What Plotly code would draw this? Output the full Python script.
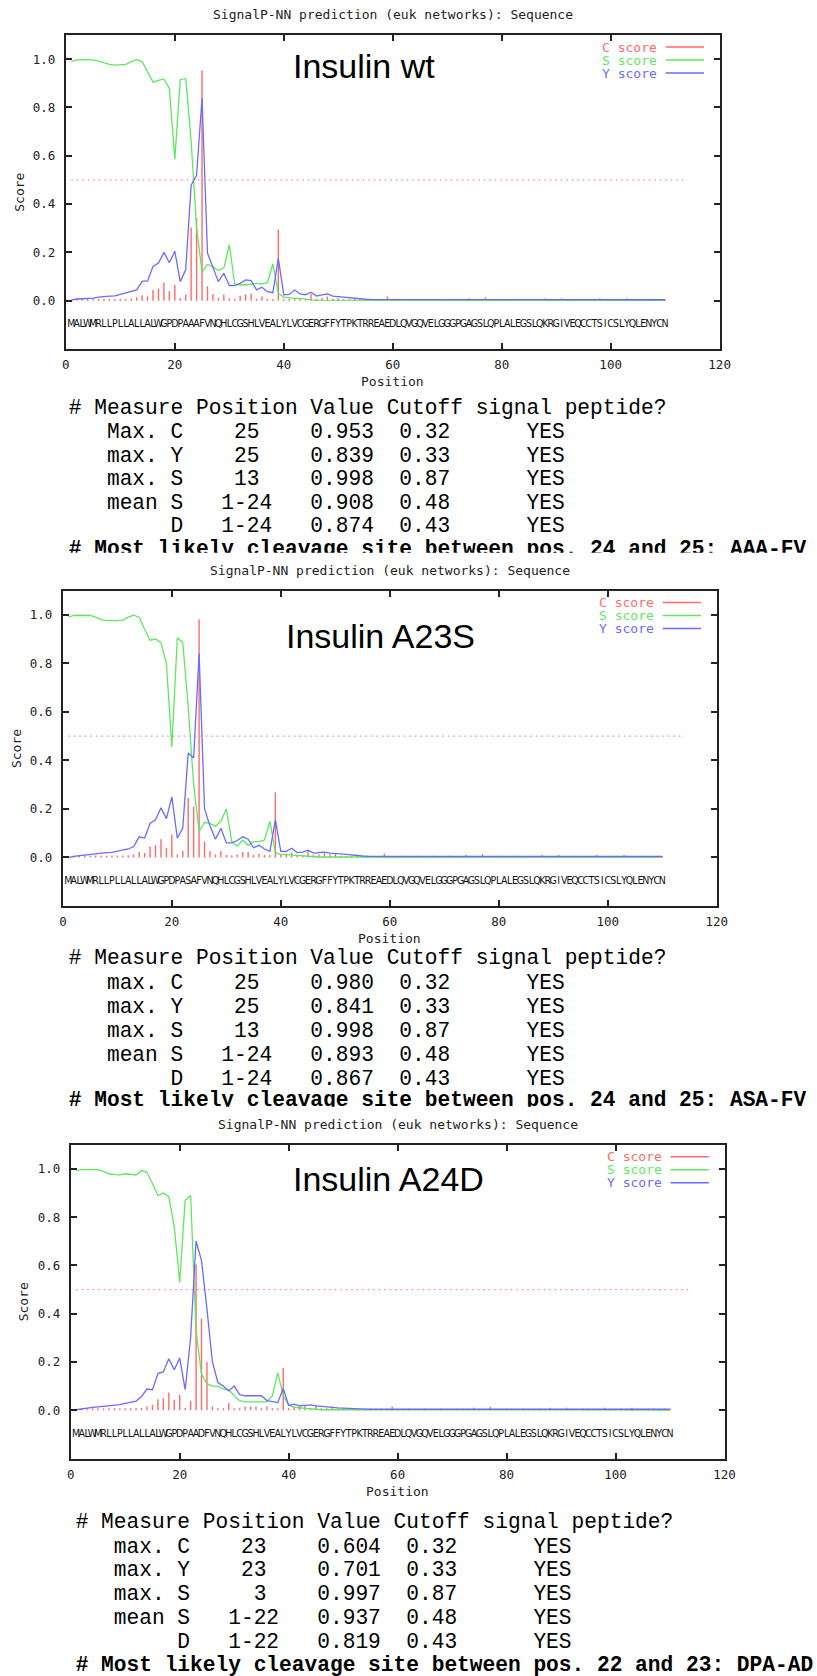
import plotly.graph_objects as go

W, H = 817, 1676

# ---------------- data ----------------
positions = list(range(1, 111))
x_ticks = [0, 20, 40, 60, 80, 100, 120]
y_ticks = [0.0, 0.2, 0.4, 0.6, 0.8, 1.0]
y_tick_labels = ["0.0", "0.2", "0.4", "0.6", "0.8", "1.0"]
cutoff_line_x = [1, 114]
cutoff_line_y = [0.5, 0.5]
sequence_row_y = -0.1

plot_title = "SignalP-NN prediction (euk networks): Sequence"
panel_names = ["Insulin wt", "Insulin A23S", "Insulin A24D"]
legend_labels = ["C score", "S score", "Y score"]

seq_wt = "MALWMRLLPLLALLALWGPDPAAAFVNQHLCGSHLVEALYLVCGERGFFYTPKTRREAEDLQVGQVELGGGPGAGSLQPLALEGSLQKRGIVEQCCTSICSLYQLENYCN"
seq_a23s = "MALWMRLLPLLALLALWGPDPASAFVNQHLCGSHLVEALYLVCGERGFFYTPKTRREAEDLQVGQVELGGGPGAGSLQPLALEGSLQKRGIVEQCCTSICSLYQLENYCN"
seq_a24d = "MALWMRLLPLLALLALWGPDPAADFVNQHLCGSHLVEALYLVCGERGFFYTPKTRREAEDLQVGQVELGGGPGAGSLQPLALEGSLQKRGIVEQCCTSICSLYQLENYCN"

c_wt = [0.003, 0.007, 0.008, 0.007, 0.007, 0.008, 0.007, 0.008, 0.007, 0.008,
        0.008, 0.009, 0.014, 0.022, 0.017, 0.044, 0.050, 0.075, 0.040, 0.065,
        0.011, 0.026, 0.303, 0.342, 0.953, 0.060, 0.028, 0.011, 0.026, 0.010,
        0.008, 0.020, 0.026, 0.030, 0.008, 0.017, 0.008, 0.007, 0.295, 0.008,
        0.008, 0.011, 0.011, 0.008, 0.028, 0.008, 0.011, 0.017, 0.008, 0.010,
        0.007, 0.006, 0.007, 0.006, 0.007, 0.006, 0.007, 0.006, 0.017, 0.006,
        0.006, 0.007, 0.006, 0.006, 0.007, 0.006, 0.006, 0.007, 0.006, 0.006,
        0.007, 0.006, 0.006, 0.010, 0.006, 0.006, 0.014, 0.006, 0.006, 0.007,
        0.006, 0.006, 0.007, 0.006, 0.006, 0.007, 0.006, 0.010, 0.006, 0.006,
        0.010, 0.006, 0.006, 0.007, 0.006, 0.006, 0.006, 0.010, 0.006, 0.006,
        0.007, 0.006, 0.010, 0.006, 0.006, 0.007, 0.006, 0.006, 0.006, 0.006]
s_wt = [0.990, 0.997, 0.998, 0.998, 0.997, 0.992, 0.985, 0.978, 0.975, 0.976,
        0.978, 0.990, 0.998, 0.990, 0.950, 0.905, 0.912, 0.918, 0.880, 0.586,
        0.915, 0.920, 0.660, 0.300, 0.120, 0.150, 0.140, 0.125, 0.135, 0.232,
        0.070, 0.065, 0.065, 0.070, 0.072, 0.070, 0.075, 0.152, 0.030, 0.015,
        0.012, 0.010, 0.010, 0.005, 0.003, 0.002, 0.002, 0.002, 0.002, 0.002,
        0.002, 0.002, 0.002, 0.002, 0.002, 0.002, 0.001, 0.001, 0.001, 0.001,
        0.001, 0.001, 0.001, 0.001, 0.001, 0.001, 0.001, 0.001, 0.001, 0.001,
        0.001, 0.001, 0.001, 0.001, 0.001, 0.001, 0.001, 0.001, 0.001, 0.001,
        0.001, 0.001, 0.001, 0.001, 0.001, 0.001, 0.001, 0.001, 0.001, 0.001,
        0.001, 0.001, 0.001, 0.001, 0.001, 0.001, 0.001, 0.001, 0.001, 0.001,
        0.001, 0.001, 0.001, 0.001, 0.001, 0.001, 0.001, 0.001, 0.001, 0.001]
y_wt = [0.002, 0.007, 0.008, 0.009, 0.011, 0.015, 0.018, 0.019, 0.020, 0.026,
        0.031, 0.036, 0.045, 0.080, 0.082, 0.142, 0.156, 0.200, 0.157, 0.205,
        0.079, 0.128, 0.478, 0.520, 0.839, 0.197, 0.142, 0.079, 0.114, 0.063,
        0.063, 0.072, 0.086, 0.083, 0.045, 0.056, 0.037, 0.033, 0.175, 0.024,
        0.026, 0.044, 0.028, 0.024, 0.035, 0.019, 0.024, 0.028, 0.019, 0.017,
        0.014, 0.010, 0.008, 0.007, 0.006, 0.005, 0.005, 0.004, 0.004, 0.004,
        0.004, 0.004, 0.004, 0.004, 0.004, 0.004, 0.004, 0.004, 0.004, 0.004,
        0.004, 0.004, 0.004, 0.004, 0.004, 0.004, 0.004, 0.004, 0.004, 0.004,
        0.004, 0.004, 0.004, 0.004, 0.004, 0.004, 0.004, 0.004, 0.004, 0.004,
        0.004, 0.004, 0.004, 0.004, 0.004, 0.004, 0.004, 0.004, 0.004, 0.004,
        0.004, 0.004, 0.004, 0.004, 0.004, 0.004, 0.004, 0.004, 0.004, 0.004]

c_a23s = [0.004, 0.008, 0.008, 0.008, 0.007, 0.008, 0.008, 0.007, 0.008, 0.008,
          0.008, 0.009, 0.012, 0.022, 0.018, 0.045, 0.050, 0.075, 0.040, 0.095,
          0.012, 0.028, 0.245, 0.210, 0.980, 0.065, 0.027, 0.012, 0.027, 0.010,
          0.008, 0.012, 0.022, 0.022, 0.010, 0.015, 0.010, 0.010, 0.268, 0.012,
          0.010, 0.020, 0.010, 0.008, 0.028, 0.010, 0.012, 0.018, 0.012, 0.015,
          0.007, 0.006, 0.007, 0.006, 0.007, 0.006, 0.007, 0.006, 0.016, 0.006,
          0.006, 0.007, 0.006, 0.006, 0.007, 0.006, 0.006, 0.007, 0.006, 0.006,
          0.007, 0.006, 0.006, 0.010, 0.006, 0.006, 0.014, 0.006, 0.006, 0.007,
          0.006, 0.006, 0.007, 0.006, 0.006, 0.007, 0.006, 0.010, 0.006, 0.006,
          0.010, 0.006, 0.006, 0.007, 0.006, 0.006, 0.006, 0.010, 0.006, 0.006,
          0.007, 0.006, 0.010, 0.006, 0.006, 0.007, 0.006, 0.006, 0.006, 0.006]
s_a23s = [0.990, 0.997, 0.998, 0.998, 0.997, 0.990, 0.980, 0.976, 0.975, 0.976,
          0.978, 0.990, 0.998, 0.990, 0.940, 0.895, 0.900, 0.885, 0.800, 0.455,
          0.905, 0.885, 0.620, 0.300, 0.107, 0.145, 0.140, 0.128, 0.150, 0.200,
          0.065, 0.047, 0.072, 0.050, 0.065, 0.065, 0.072, 0.150, 0.020, 0.012,
          0.012, 0.010, 0.008, 0.005, 0.003, 0.002, 0.002, 0.002, 0.002, 0.002,
          0.002, 0.002, 0.002, 0.002, 0.002, 0.002, 0.001, 0.001, 0.001, 0.001,
          0.001, 0.001, 0.001, 0.001, 0.001, 0.001, 0.001, 0.001, 0.001, 0.001,
          0.001, 0.001, 0.001, 0.001, 0.001, 0.001, 0.001, 0.001, 0.001, 0.001,
          0.001, 0.001, 0.001, 0.001, 0.001, 0.001, 0.001, 0.001, 0.001, 0.001,
          0.001, 0.001, 0.001, 0.001, 0.001, 0.001, 0.001, 0.001, 0.001, 0.001,
          0.001, 0.001, 0.001, 0.001, 0.001, 0.001, 0.001, 0.001, 0.001, 0.001]
y_a23s = [0.000, 0.005, 0.008, 0.010, 0.013, 0.015, 0.020, 0.020, 0.021, 0.025,
          0.030, 0.035, 0.045, 0.085, 0.080, 0.140, 0.155, 0.205, 0.160, 0.250,
          0.080, 0.120, 0.430, 0.410, 0.841, 0.200, 0.130, 0.075, 0.120, 0.060,
          0.060, 0.070, 0.085, 0.075, 0.040, 0.050, 0.035, 0.025, 0.155, 0.025,
          0.025, 0.038, 0.020, 0.022, 0.030, 0.018, 0.020, 0.022, 0.018, 0.015,
          0.015, 0.013, 0.010, 0.008, 0.006, 0.005, 0.004, 0.004, 0.004, 0.004,
          0.004, 0.004, 0.004, 0.004, 0.004, 0.004, 0.004, 0.004, 0.004, 0.004,
          0.004, 0.004, 0.004, 0.004, 0.004, 0.004, 0.004, 0.004, 0.004, 0.004,
          0.004, 0.004, 0.004, 0.004, 0.004, 0.004, 0.004, 0.004, 0.004, 0.004,
          0.004, 0.004, 0.004, 0.004, 0.004, 0.004, 0.004, 0.004, 0.004, 0.004,
          0.004, 0.004, 0.004, 0.004, 0.004, 0.004, 0.004, 0.004, 0.004, 0.004]

c_a24d = [0.004, 0.008, 0.008, 0.008, 0.008, 0.007, 0.008, 0.008, 0.007, 0.008,
          0.008, 0.008, 0.009, 0.016, 0.023, 0.046, 0.050, 0.074, 0.043, 0.064,
          0.009, 0.039, 0.604, 0.380, 0.200, 0.016, 0.008, 0.008, 0.030, 0.008,
          0.008, 0.016, 0.016, 0.016, 0.008, 0.016, 0.008, 0.008, 0.175, 0.008,
          0.016, 0.018, 0.020, 0.008, 0.023, 0.008, 0.008, 0.016, 0.007, 0.007,
          0.007, 0.006, 0.007, 0.006, 0.007, 0.006, 0.007, 0.006, 0.016, 0.006,
          0.006, 0.007, 0.006, 0.006, 0.007, 0.006, 0.006, 0.007, 0.006, 0.006,
          0.007, 0.006, 0.006, 0.010, 0.006, 0.006, 0.014, 0.006, 0.006, 0.007,
          0.006, 0.006, 0.007, 0.006, 0.006, 0.007, 0.006, 0.010, 0.006, 0.006,
          0.010, 0.006, 0.006, 0.007, 0.006, 0.006, 0.006, 0.010, 0.006, 0.006,
          0.007, 0.006, 0.010, 0.006, 0.006, 0.007, 0.006, 0.006, 0.006, 0.006]
s_a24d = [0.993, 0.997, 0.997, 0.997, 0.997, 0.990, 0.980, 0.976, 0.975, 0.980,
          0.976, 0.975, 0.995, 0.985, 0.940, 0.890, 0.900, 0.885, 0.760, 0.530,
          0.870, 0.890, 0.330, 0.150, 0.110, 0.100, 0.100, 0.088, 0.085, 0.060,
          0.040, 0.035, 0.035, 0.035, 0.032, 0.035, 0.060, 0.155, 0.060, 0.022,
          0.012, 0.010, 0.005, 0.003, 0.002, 0.002, 0.002, 0.002, 0.002, 0.002,
          0.002, 0.002, 0.002, 0.002, 0.002, 0.002, 0.001, 0.001, 0.001, 0.001,
          0.001, 0.001, 0.001, 0.001, 0.001, 0.001, 0.001, 0.001, 0.001, 0.001,
          0.001, 0.001, 0.001, 0.001, 0.001, 0.001, 0.001, 0.001, 0.001, 0.001,
          0.001, 0.001, 0.001, 0.001, 0.001, 0.001, 0.001, 0.001, 0.001, 0.001,
          0.001, 0.001, 0.001, 0.001, 0.001, 0.001, 0.001, 0.001, 0.001, 0.001,
          0.001, 0.001, 0.001, 0.001, 0.001, 0.001, 0.001, 0.001, 0.001, 0.001]
y_a24d = [0.002, 0.006, 0.010, 0.012, 0.014, 0.016, 0.018, 0.020, 0.023, 0.028,
          0.033, 0.038, 0.057, 0.088, 0.085, 0.152, 0.160, 0.213, 0.168, 0.216,
          0.085, 0.300, 0.701, 0.620, 0.420, 0.200, 0.115, 0.100, 0.080, 0.100,
          0.065, 0.060, 0.060, 0.060, 0.060, 0.040, 0.035, 0.032, 0.090, 0.020,
          0.025, 0.018, 0.020, 0.022, 0.018, 0.015, 0.015, 0.012, 0.010, 0.010,
          0.008, 0.007, 0.006, 0.004, 0.004, 0.004, 0.004, 0.004, 0.004, 0.004,
          0.004, 0.004, 0.004, 0.004, 0.004, 0.004, 0.004, 0.004, 0.004, 0.004,
          0.004, 0.004, 0.004, 0.004, 0.004, 0.004, 0.004, 0.004, 0.004, 0.004,
          0.004, 0.004, 0.004, 0.004, 0.004, 0.004, 0.004, 0.004, 0.004, 0.004,
          0.004, 0.004, 0.004, 0.004, 0.004, 0.004, 0.004, 0.004, 0.004, 0.004,
          0.004, 0.004, 0.004, 0.004, 0.004, 0.004, 0.004, 0.004, 0.004, 0.004]

table_header = "# Measure Position Value Cutoff signal peptide?"
measures_wt = ["Max. C", "max. Y", "max. S", "mean S", "D"]
measures_mut = ["max. C", "max. Y", "max. S", "mean S", "D"]
pos_wt = ["25", "25", "13", "1-24", "1-24"]
val_wt = ["0.953", "0.839", "0.998", "0.908", "0.874"]
pos_a23s = ["25", "25", "13", "1-24", "1-24"]
val_a23s = ["0.980", "0.841", "0.998", "0.893", "0.867"]
pos_a24d = ["23", "23", "3", "1-22", "1-22"]
val_a24d = ["0.604", "0.701", "0.997", "0.937", "0.819"]
cutoffs = ["0.32", "0.33", "0.87", "0.48", "0.43"]
answers = ["YES", "YES", "YES", "YES", "YES"]
cleavage_wt = "# Most likely cleavage site between pos. 24 and 25: AAA-FV"
cleavage_a23s = "# Most likely cleavage site between pos. 24 and 25: ASA-FV"
cleavage_a24d = "# Most likely cleavage site between pos. 22 and 23: DPA-AD"

# ---------------- styling / layout (pixels) ----------------
RED, GREEN, BLUE, PINK = "#ff6a6a", "#5fe85f", "#6b6bff", "#ff6eff"
INK = "#222222"
GP = "DejaVu Sans Mono, monospace"
MONO = "Courier New, Nimbus Mono PS, FreeMono, Liberation Mono, monospace"
ARIAL = "Liberation Sans, Arial, sans-serif"
SEQF = "Liberation Sans Narrow, DejaVu Sans Condensed, sans-serif"
TABLE_SIZE = 21.2
ROW_SHIFT = 2.5

panels = [
    dict(seq=seq_wt, c=c_wt, s=s_wt, y=y_wt, name=panel_names[0],
         x0=63, x1=729, top=35, bottom=349, label_x=292, label_y=65.5,
         table_x=66, rows=[406.7, 430.2, 453.9, 477.6, 501.0, 524.4, 549.7],
         clip=552.7, measures=measures_wt, pos=pos_wt, val=val_wt, cleave=cleavage_wt),
    dict(seq=seq_a23s, c=c_a23s, s=s_a23s, y=y_a23s, name=panel_names[1],
         x0=60, x1=726, top=590.5, bottom=906, label_x=285.5, label_y=636,
         table_x=66, rows=[956.7, 980.8, 1004.9, 1029.0, 1053.0, 1076.8, 1100.4],
         clip=1106.7, measures=measures_mut, pos=pos_a23s, val=val_a23s, cleave=cleavage_a23s),
    dict(seq=seq_a24d, c=c_a24d, s=s_a24d, y=y_a24d, name=panel_names[2],
         x0=68, x1=734, top=1144.8, bottom=1458.5, label_x=292.7, label_y=1179,
         table_x=73, rows=[1520.7, 1545.0, 1568.5, 1592.5, 1615.9, 1640.0, 1663.3],
         clip=None, measures=measures_mut, pos=pos_a24d, val=val_a24d, cleave=cleavage_a24d),
]


def table_line(measure, pos, value, cutoff, answer):
    cells = [" "] * 40

    def put(col, txt):
        for k, ch in enumerate(txt):
            cells[col + k] = ch
    put(9 - len(measure), measure)
    put(12 if "-" in pos else 15 - len(pos), pos)
    put(19, value)
    put(26, cutoff)
    put(36, answer)
    return "".join(cells).rstrip().replace(" ", "\u00a0")


def nb(s):
    return s.replace(" ", "\u00a0")


fig = go.Figure()
layout = dict(width=W, height=H, autosize=False, margin=dict(l=0, r=0, t=0, b=0),
              paper_bgcolor="white", plot_bgcolor="rgba(0,0,0,0)", showlegend=False)

annotations = []
shapes = []

# page-pixel overlay axis (x4/y4)
layout["xaxis4"] = dict(domain=[0, 1], range=[0, W], visible=False, fixedrange=True, anchor="y4")
layout["yaxis4"] = dict(domain=[0, 1], range=[H, 0], visible=False, fixedrange=True, anchor="x4")

clip_axis_idx = 5
for i, p in enumerate(panels):
    k = "" if i == 0 else str(i + 1)
    xa, ya = "x" + k, "y" + k
    tickfont = dict(family=GP, size=12.5, color=INK)
    common = dict(ticks="inside", ticklen=6, tickwidth=1.5, tickcolor=INK, showline=True,
                  linecolor=INK, linewidth=2, mirror="ticks", showgrid=False, zeroline=False,
                  fixedrange=True, tickfont=tickfont)
    layout["xaxis" + k] = dict(domain=[p["x0"] / W, p["x1"] / W], range=[0, 120],
                               tickvals=x_ticks, anchor=ya, ticklabelstandoff=3, **common)
    layout["yaxis" + k] = dict(domain=[1 - p["bottom"] / H, 1 - p["top"] / H], range=[-0.2, 1.1],
                               tickvals=y_ticks, ticktext=y_tick_labels, anchor=xa,
                               ticklabelstandoff=6, **common)

    # C score impulses
    ix, iy = [], []
    for pos, v in zip(positions, p["c"]):
        ix += [pos, pos, None]
        iy += [0, v, None]
    fig.add_trace(go.Scatter(x=ix, y=iy, mode="lines", line=dict(color=RED, width=1.4),
                             xaxis=xa, yaxis=ya, hoverinfo="skip"))
    fig.add_trace(go.Scatter(x=positions, y=p["s"], mode="lines", line=dict(color=GREEN, width=1.3),
                             xaxis=xa, yaxis=ya, hoverinfo="skip"))
    fig.add_trace(go.Scatter(x=positions, y=p["y"], mode="lines", line=dict(color=BLUE, width=1.3),
                             xaxis=xa, yaxis=ya, hoverinfo="skip"))
    fig.add_trace(go.Scatter(x=cutoff_line_x, y=cutoff_line_y, mode="lines",
                             line=dict(color=PINK, width=1.3, dash="1.5px,4px"),
                             xaxis=xa, yaxis=ya, hoverinfo="skip"))
    fig.add_trace(go.Scatter(x=positions, y=[sequence_row_y] * len(positions), mode="text",
                             text=list(p["seq"]), textposition="middle center",
                             textfont=dict(family=SEQF, size=10.5, color="#111"),
                             xaxis=xa, yaxis=ya, hoverinfo="skip", cliponaxis=False))

    cx = (p["x0"] + p["x1"]) / 2
    # title
    annotations.append(dict(x=cx, y=p["top"] - 20.5, xref="x4", yref="y4", text=plot_title,
                            showarrow=False, font=dict(family=GP, size=13, color=INK),
                            xanchor="center", yanchor="middle"))
    # big label
    annotations.append(dict(x=p["label_x"], y=p["label_y"], xref="x4", yref="y4", text=p["name"],
                            showarrow=False, font=dict(family=ARIAL, size=34, color="black"),
                            xanchor="left", yanchor="middle"))
    # axis titles
    annotations.append(dict(x=p["x0"] - 48, y=(p["top"] + p["bottom"]) / 2, xref="x4", yref="y4",
                            text="Score", textangle=-90, showarrow=False,
                            font=dict(family=GP, size=13, color=INK), xanchor="center", yanchor="middle"))
    annotations.append(dict(x=cx, y=p["bottom"] + 32.5, xref="x4", yref="y4", text="Position",
                            showarrow=False, font=dict(family=GP, size=13, color=INK),
                            xanchor="center", yanchor="middle"))
    # legend
    for j, (lab, col) in enumerate(zip(legend_labels, [RED, GREEN, BLUE])):
        ly = p["top"] + 12 + 13 * j
        annotations.append(dict(x=p["x1"] - 62, y=ly, xref="x4", yref="y4", text=lab,
                                showarrow=False, font=dict(family=GP, size=13, color=col),
                                xanchor="right", yanchor="middle"))
        shapes.append(dict(type="line", xref="x4", yref="y4", x0=p["x1"] - 55, x1=p["x1"] - 16,
                           y0=ly, y1=ly, line=dict(color=col, width=1.5)))

    # table
    rows = [r + ROW_SHIFT for r in p["rows"]]
    lines = [nb(table_header)] + [table_line(m, q, v, c, a) for m, q, v, c, a in
                                  zip(p["measures"], p["pos"], p["val"], cutoffs, answers)]
    fig.add_trace(go.Scatter(x=[p["table_x"]] * len(lines), y=rows[:6], mode="text",
                             text=lines, textposition="middle right",
                             textfont=dict(family=MONO, size=TABLE_SIZE, color="black"),
                             xaxis="x4", yaxis="y4", hoverinfo="skip", cliponaxis=False))
    cleave_txt = "<b>" + nb(p["cleave"]) + "</b>"
    if p["clip"] is None:
        fig.add_trace(go.Scatter(x=[p["table_x"]], y=[rows[6]], mode="text",
                                 text=[cleave_txt], textposition="middle right",
                                 textfont=dict(family=MONO, size=TABLE_SIZE, color="black"),
                                 xaxis="x4", yaxis="y4", hoverinfo="skip", cliponaxis=False))
    else:
        kk = str(clip_axis_idx)
        clip_axis_idx += 1
        top_px = p["clip"] - 26
        layout["xaxis" + kk] = dict(domain=[0, 1], range=[0, W], visible=False, fixedrange=True,
                                    anchor="y" + kk)
        layout["yaxis" + kk] = dict(domain=[1 - p["clip"] / H, 1 - top_px / H],
                                    range=[p["clip"], top_px], visible=False, fixedrange=True,
                                    anchor="x" + kk)
        fig.add_trace(go.Scatter(x=[p["table_x"]], y=[p["rows"][6]], mode="text",
                                 text=[cleave_txt], textposition="middle right",
                                 textfont=dict(family=MONO, size=TABLE_SIZE, color="black"),
                                 xaxis="x" + kk, yaxis="y" + kk, hoverinfo="skip", cliponaxis=True))

layout["annotations"] = annotations
layout["shapes"] = shapes
fig.update_layout(**layout)
fig.write_html("out.html")
